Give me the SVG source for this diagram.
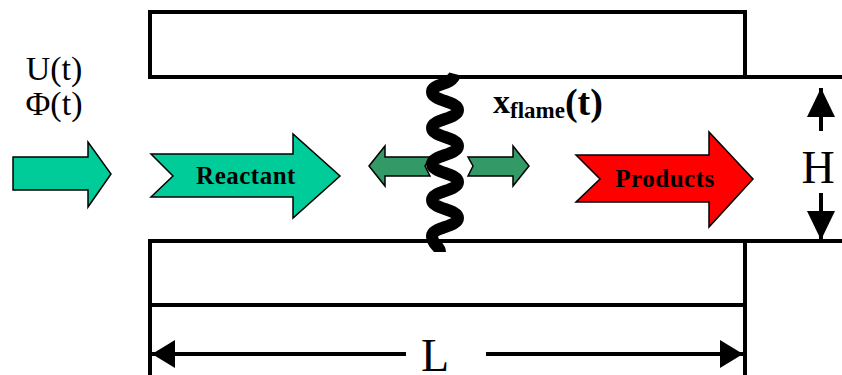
<svg xmlns="http://www.w3.org/2000/svg" width="842" height="375" viewBox="0 0 842 375">
<style>
.wall{fill:#fff;stroke:#000;stroke-width:4}
.ln{stroke:#000;stroke-width:4;fill:none}
.arr{stroke:#000;stroke-width:1.5;stroke-linejoin:miter}
.teal{fill:#00CC99}
.green{fill:#339966}
.red{fill:#FF0000}
.serif{font-family:"Liberation Serif","Times New Roman",Times,serif}
.lbl{font-family:"Liberation Serif","Times New Roman",Times,serif;font-weight:bold;font-size:25px;text-anchor:middle;letter-spacing:0.5px}
</style>
<defs>
<marker id="ahL" viewBox="0 0 23 28" refX="23" refY="14" markerWidth="23" markerHeight="28" markerUnits="userSpaceOnUse" orient="auto">
<path d="M0,0 L23,14 L0,28 z" fill="#000"/>
</marker>
<marker id="ahH" viewBox="0 0 29 28" refX="29" refY="14" markerWidth="29" markerHeight="28" markerUnits="userSpaceOnUse" orient="auto">
<path d="M0,0 L29,14 L0,28 z" fill="#000"/>
</marker>
</defs>
<rect width="842" height="375" fill="#fff"/>
<g id="top-wall">
<rect class="wall" x="150" y="12" width="595" height="65"/>
<line class="ln" x1="745" y1="77" x2="842" y2="77"/>
</g>
<g id="bottom-wall">
<rect class="wall" x="150" y="241" width="595" height="64"/>
<line class="ln" x1="745" y1="241" x2="842" y2="241"/>
</g>
<g id="inflow">
<text class="serif" x="54" y="80" font-size="34" text-anchor="middle">U(t)</text>
<text class="serif" x="54" y="115" font-size="34" text-anchor="middle">Φ(t)</text>
<path class="arr teal" d="M13,157 L88,157 L88,142 L111,174 L88,207 L88,190 L13,190 Z"/>
</g>
<g id="reactant">
<path class="arr teal" d="M151,154 L293,154 L293,134 L340,176 L293,218 L293,197 L151,197 L173,176 Z"/>
<text class="lbl" x="246" y="184">Reactant</text>
</g>
<g id="flame-motion">
<path class="arr green" d="M369,166 L385,146 L385,157 L430,157 L425,166 L430,176 L385,176 L385,186 Z"/>
<path class="arr green" d="M468,157 L513,157 L513,146 L529,166 L513,186 L513,176 L468,176 L473,166 Z"/>
</g>
<g id="flame">
<path d="M455,74 C452,86 432,83 432,92 C432,101 458,101 458,110 S432,119 432,128 S458,137 458,146 S432,155 432,164 S458,173 458,182 S432,191 432,200 S458,209 458,218 S432,227 432,236 S440,246 440,252" fill="none" stroke="#000" stroke-width="12"/>
<text class="serif" x="493" y="113" font-weight="bold" font-size="34">x<tspan font-size="23" dy="5">flame</tspan><tspan font-size="38" dy="-3">(t)</tspan></text>
</g>
<g id="products">
<path class="arr red" d="M576,155 L709,155 L709,132 L753,179 L709,227 L709,202 L576,202 L600,179 Z"/>
<text class="lbl" x="665" y="187">Products</text>
</g>
<g id="connectors">
<line class="ln" x1="150" y1="305" x2="150" y2="375"/>
<line class="ln" x1="745" y1="305" x2="745" y2="375"/>
<line x1="406" y1="354" x2="152" y2="354" stroke="#000" stroke-width="4" marker-end="url(#ahL)"/>
<line x1="486" y1="354" x2="743" y2="354" stroke="#000" stroke-width="4" marker-end="url(#ahL)"/>
<line x1="821" y1="131" x2="821" y2="88" stroke="#000" stroke-width="4" marker-end="url(#ahH)"/>
<line x1="821" y1="193" x2="821" y2="240" stroke="#000" stroke-width="4" marker-end="url(#ahH)"/>
</g>
<g id="dims">
<text class="serif" x="435" y="371" font-size="46" text-anchor="middle">L</text>
<text class="serif" x="818" y="183" font-size="46" text-anchor="middle">H</text>
</g>
</svg>
